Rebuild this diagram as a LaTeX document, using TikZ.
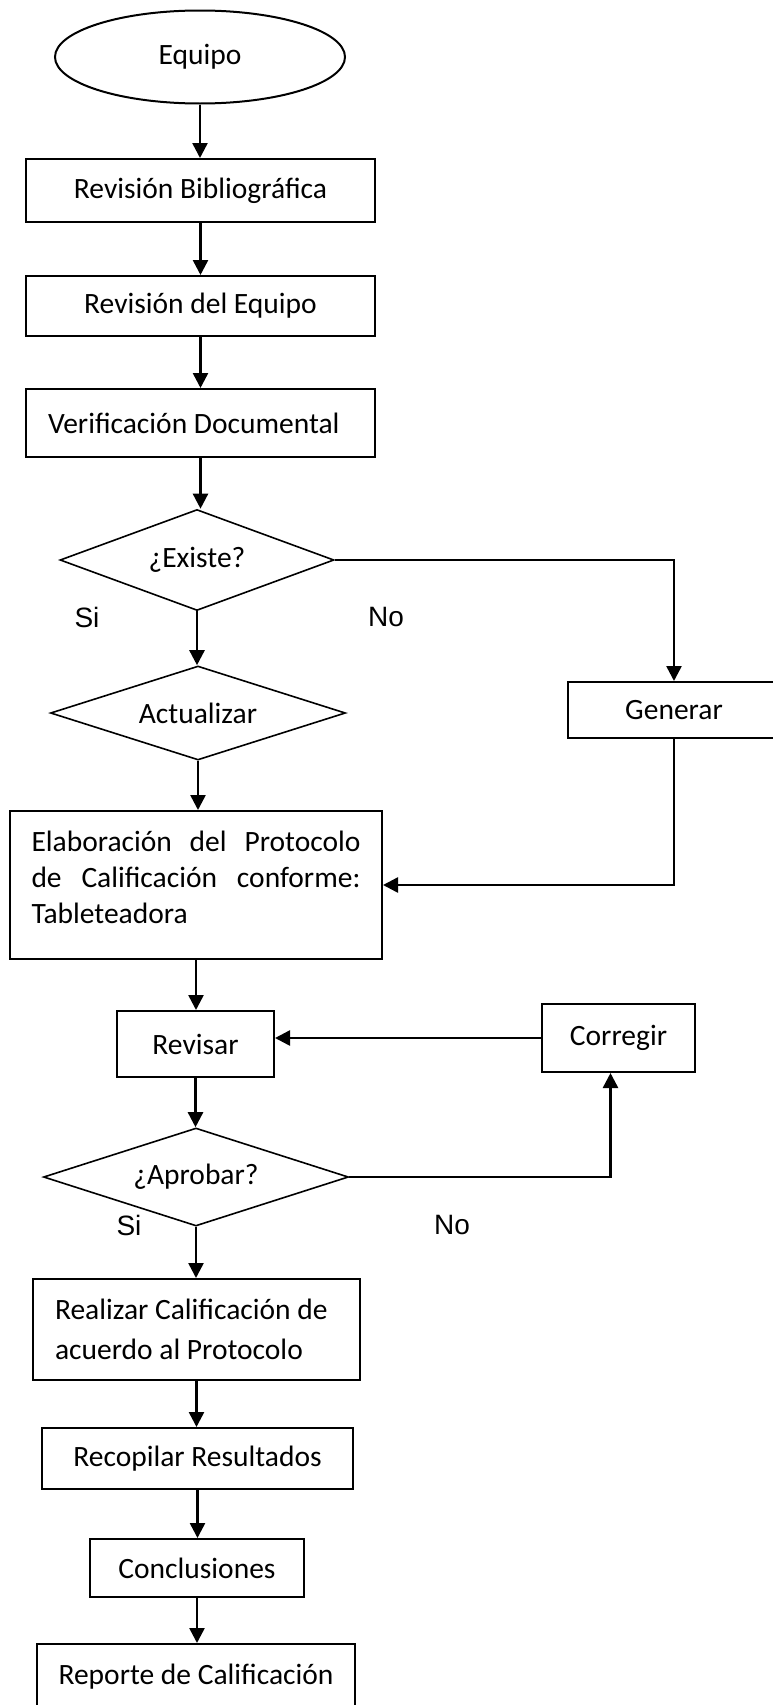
\documentclass[tikz,border=0pt]{standalone}
\usepackage{fontspec}
\setmainfont{Carlito}
\newfontfamily\arialfont{Liberation Sans}
\usetikzlibrary{arrows.meta,shapes.geometric}
\tikzset{
  caja/.style={draw, rectangle, line width=2pt, inner sep=0pt, font=\fontsize{29.5}{36}\selectfont},
  rombo/.style={draw, diamond, aspect=3, line width=1.6pt, inner sep=0pt, font=\fontsize{29.5}{36}\selectfont},
  flecha/.style={line width=2.5pt, -{Triangle[width=15pt,length=15pt]}},
  etiqueta/.style={font=\arialfont\fontsize{28}{34}\selectfont}
}

\begin{document}
\begin{tikzpicture}[x=1pt, y=-1pt]
			%%%%% START %%%%%
			\useasboundingbox (0, 0) rectangle (773, 1705);
			
			\node[draw, ellipse, line width=2pt, inner sep=0pt, minimum width=290, minimum height=93, font=\fontsize{29.5}{36}\selectfont] (equipo) at (200, 57) {Equipo};
			
			\node[caja, minimum width=349, minimum height=63] (bibl) at (200.5, 190.5) {Revisión Bibliográfica};
			\node[caja, minimum width=349, minimum height=60] (revequipo) at (200.5, 306) {Revisión del Equipo};
			\node[caja, minimum width=349, minimum height=68, inner xsep=22pt, text width=305, align=left] (verif) at (200.5, 423) {\spaceskip=0pt Verificación Documental};
			
			\node[rombo, minimum width=274, minimum height=101] (existe) at (197, 560) {¿Existe?};
			\node[etiqueta] (si1) at (87, 617) {Si};
			\node[etiqueta] (no1) at (386, 617) {No};
			
			\node[rombo, minimum width=295, minimum height=94] (actualizar) at (198, 713) {Actualizar};
			\node[caja, minimum width=212, minimum height=56] (generar) at (674, 710) {Generar};
			
			\node[caja, minimum width=372, minimum height=148, inner xsep=21.5pt, text width=329, align=justify] (elab) at (196, 885)
				{Elaboración del Protocolo\linebreak de Calificación conforme:\linebreak Tableteadora\par\nointerlineskip\vspace{16pt}\hbox{}};
			
			\node[caja, minimum width=157, minimum height=66] (revisar) at (195.5, 1044) {Revisar};
			\node[caja, minimum width=153, minimum height=68] (corregir) at (618.5, 1038) {Corregir};
			
			\node[rombo, minimum width=305, minimum height=98] (aprobar) at (196, 1177) {¿Aprobar?};
			\node[etiqueta] (si2) at (129, 1225) {Si};
			\node[etiqueta] (no2) at (452, 1225) {No};
			
			\node[caja, minimum width=327, minimum height=101, inner xsep=22pt, text width=283, align=left, font=\fontsize{29.5}{40}\selectfont] (realizar) at (196.5, 1329.5)
				{\spaceskip=0pt Realizar Calificación de\\acuerdo al Protocolo};
			\node[caja, minimum width=311, minimum height=61] (recopilar) at (197.5, 1458.5) {Recopilar Resultados};
			\node[caja, minimum width=214, minimum height=58] (conclusiones) at (197, 1568) {Conclusiones};
			\node[caja, minimum width=318, minimum height=66] (reporte) at (196, 1677) {Reporte de Calificación};
			
			% main column
			\foreach \de/\a in {equipo/bibl, bibl/revequipo, revequipo/verif, verif/existe, existe/actualizar, actualizar/elab, elab/revisar, revisar/aprobar, aprobar/realizar, realizar/recopilar, recopilar/conclusiones, conclusiones/reporte}
				\draw[flecha] (\de.south) -- (\de.south |- \a.north);
			
			% side branches
			\draw[flecha] (existe.east) -| (generar.north);
			\draw[flecha] (generar.south) |- (elab.east);
			\draw[flecha] (corregir.west) -- (corregir.west -| revisar.east);
			\draw[flecha] (aprobar.east) -| ([xshift=-8pt]corregir.south);
			
			%%%%% END %%%%%
\end{tikzpicture}
\end{document}
